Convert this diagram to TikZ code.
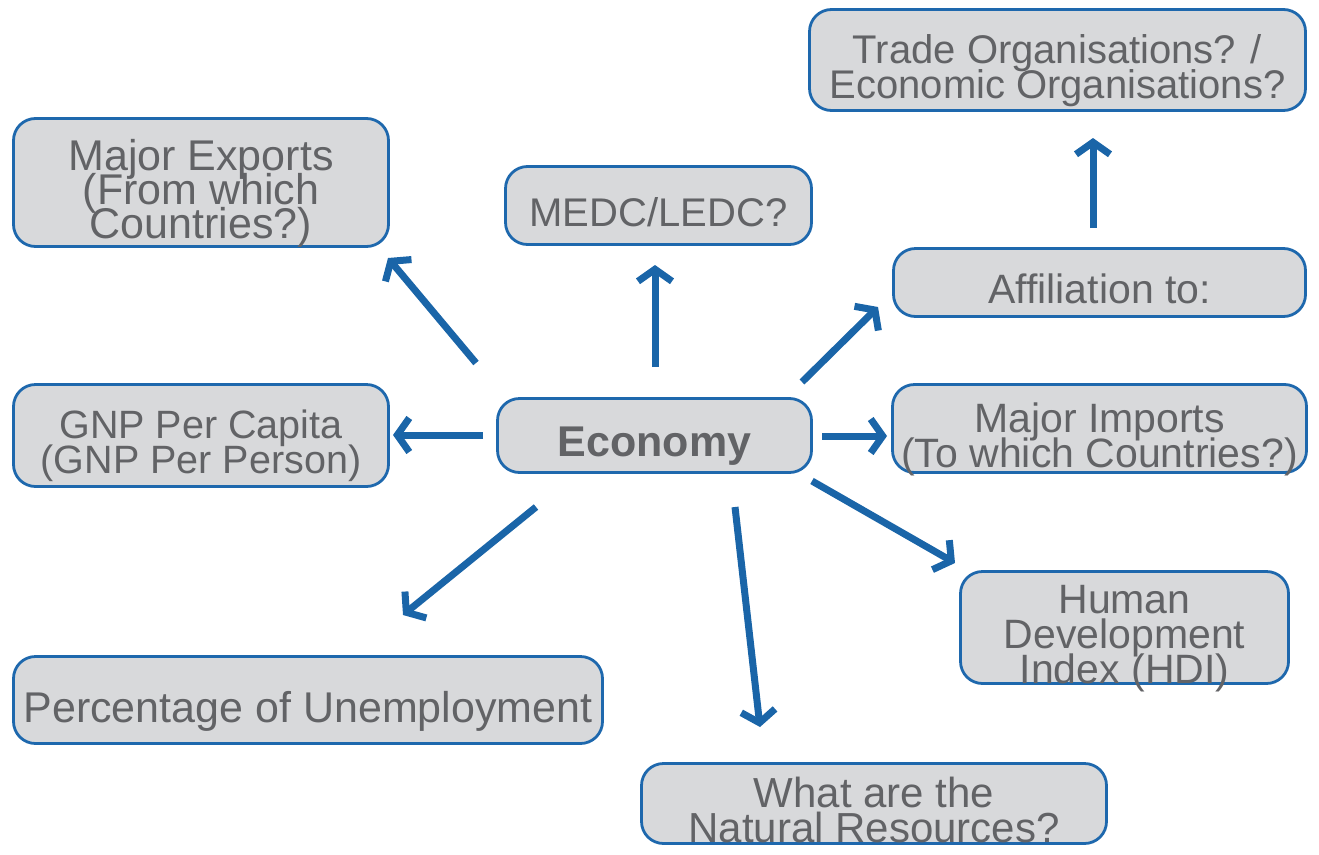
\documentclass[tikz,border=0pt]{standalone}
\usepackage{fontspec}
\setmainfont{Liberation Sans}
\usetikzlibrary{arrows.meta}
\definecolor{boxfill}{HTML}{D8D9DB}
\definecolor{boxline}{HTML}{1E68AD}
\definecolor{arrowcol}{HTML}{1A65A8}
\definecolor{txtcol}{HTML}{626366}
\newcommand\botst{\rule[-9pt]{0pt}{9pt}}
\AtBeginDocument{\lineskiplimit=-100pt\relax}
\tikzset{
  box/.style={draw=boxline, fill=boxfill, line width=2.8pt, rounded corners=22pt,
    inner sep=0pt},
  txt/.style={inner sep=0pt, align=center, text=txtcol},
  f39/.style={txt, font=\fontsize{39.5}{35}\selectfont},
  f40/.style={txt, font=\fontsize{40}{35}\selectfont},
  f41/.style={txt, font=\fontsize{41}{35}\selectfont},
  f42/.style={txt, font=\fontsize{42}{34.5}\selectfont},
  f43/.style={txt, font=\fontsize{43}{34}\selectfont},
  fbold/.style={txt, font=\fontsize{43}{35}\selectfont\bfseries},
  arr/.style={draw=arrowcol, line width=7pt, line cap=butt,
    -{Straight Barb[length=12pt, width=34pt]}}
}
\begin{document}
\begin{tikzpicture}[x=1pt, y=-1pt]
\useasboundingbox (0,0) rectangle (1319,854);

% boxes
\node[box, minimum width=496pt, minimum height=101pt] (trade) at (1057.5,60) {};
\node[box, minimum width=375pt, minimum height=128pt] (exports) at (201,182.5) {};
\node[box, minimum width=306pt, minimum height=78pt] (medc) at (658.5,205.5) {};
\node[box, minimum width=412pt, minimum height=68pt] (affil) at (1099.5,282.5) {};
\node[box, minimum width=375pt, minimum height=102pt] (gnp) at (201,435.5) {};
\node[box, minimum width=314pt, minimum height=74pt] (econ) at (654.5,435.5) {};
\node[box, minimum width=414pt, minimum height=88pt] (imports) at (1099.5,428.5) {};
\node[box, minimum width=328pt, minimum height=112pt] (hdi) at (1124.5,627.5) {};
\node[box, minimum width=589pt, minimum height=87pt] (unemp) at (308,700) {};
\node[box, minimum width=465pt, minimum height=80pt] (natural) at (874,803.5) {};

% texts
\node[f40] (tradeT) at ([yshift=-11pt]trade.center)
  {Trade Organisations? /\\Economic Organisations?\botst};
\node[f43] (exportsT) at ([yshift=-11pt]exports.center)
  {Major Exports\\(From which\\Countries?)\botst};
\node[f40] (medcT) at ([yshift=-11pt]medc.center) {MEDC/LEDC?\botst};
\node[f41] (affilT) at ([yshift=-11pt]affil.center) {Affiliation to:\botst};
\node[f39] (gnpT) at ([yshift=-11pt]gnp.center)
  {GNP Per Capita\\(GNP Per Person)\botst};
\node[fbold] (econT) at ([yshift=-11pt]econ.center) {Economy\botst};
\node[f41] (importsT) at ([yshift=-11pt]imports.center)
  {Major Imports\\(To which Countries?)\botst};
\node[f41] (hdiT) at ([yshift=-11pt]hdi.center)
  {Human\\Development\\Index (HDI)\botst};
\node[f43] (unempT) at ([yshift=-11pt]unemp.center)
  {Percentage of Unemployment\botst};
\node[f42] (naturalT) at ([yshift=-11pt]natural.center)
  {What are the\\Natural Resources?\botst};

% arrow end points
\coordinate (a1s) at (476,363); \coordinate (a1e) at (388,258);
\coordinate (a2s) at (655,367); \coordinate (a2e) at (655,265);
\coordinate (a3s) at (802,382); \coordinate (a3e) at (878,307);
\coordinate (a4s) at (1093,228); \coordinate (a4e) at (1093,138);
\coordinate (a5s) at (483,435); \coordinate (a5e) at (393,435);
\coordinate (a6s) at (822,436); \coordinate (a6e) at (887,436);
\coordinate (a7s) at (812,481); \coordinate (a7e) at (955,563);
\coordinate (a8s) at (536,507); \coordinate (a8e) at (403,615);
\coordinate (a9s) at (735,507); \coordinate (a9e) at (760,727);

\draw[arr] (a1s) -- (a1e);
\draw[arr] (a2s) -- (a2e);
\draw[arr] (a3s) -- (a3e);
\draw[arr] (a4s) -- (a4e);
\draw[arr] (a5s) -- (a5e);
\draw[arr] (a6s) -- (a6e);
\draw[arr] (a7s) -- (a7e);
\draw[arr] (a8s) -- (a8e);
\draw[arr] (a9s) -- (a9e);
\end{tikzpicture}
\end{document}
